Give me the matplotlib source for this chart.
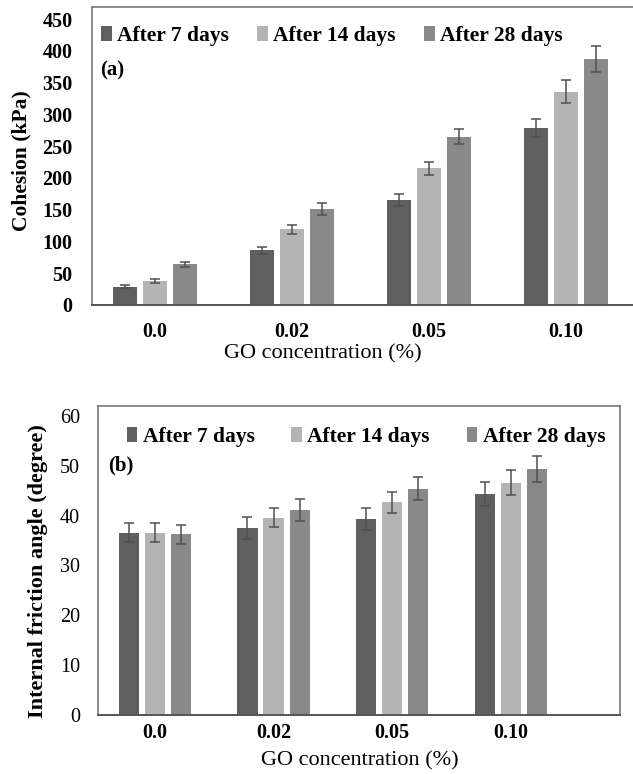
import matplotlib
matplotlib.use("Agg")
import matplotlib.pyplot as plt
import numpy as np
from matplotlib.patches import Patch

categories = ["0.0", "0.02", "0.05", "0.10"]
series = ["After 7 days", "After 14 days", "After 28 days"]
colors = ["#5f5f5f", "#b4b4b4", "#898989"]

cohesion = [
    [29, 86, 165, 279],
    [38, 119, 215, 336],
    [64, 151, 265, 387],
]
cohesion_err = [
    [2, 5, 9, 14],
    [3, 7, 10, 18],
    [4, 9, 12, 20],
]
friction = [
    [36.6, 37.6, 39.3, 44.4],
    [36.6, 39.6, 42.7, 46.6],
    [36.3, 41.2, 45.4, 49.3],
]
friction_err = [
    [1.9, 2.2, 2.2, 2.4],
    [1.9, 1.9, 2.1, 2.5],
    [1.9, 2.2, 2.3, 2.6],
]

plt.rcParams['font.family'] = ['Liberation Serif', 'DejaVu Serif']

W, H = 633, 774
fig = plt.figure(figsize=(W/100, H/100), dpi=100)

def px_axes(l, t, r, b):
    return fig.add_axes([l/W, 1 - b/H, (r - l)/W, (b - t)/H])

frame_col = "#777777"
axis_col = "#555555"

def draw(ax, vals, errs, width, step, ylim, yticks, ytick_bold, xpad, ypad, leg_anchor, colsp,
         tag, tag_xy, ylabel, ylabel_xy, ylabel_size):
    x = np.arange(len(categories))
    for i in range(3):
        ax.bar(x + (i - 1) * step, vals[i], width, color=colors[i], zorder=2,
               yerr=errs[i], error_kw=dict(ecolor="#505050", elinewidth=1.1, capsize=3.5, capthick=1.1))
    ax.set_ylim(*ylim)
    ax.set_yticks(yticks)
    ax.set_yticklabels([str(t) for t in yticks], fontsize=14.5,
                       fontweight='bold' if ytick_bold else 'normal')
    ax.set_xticks(x)
    ax.set_xticklabels(categories, fontsize=14.5, fontweight='bold')
    ax.tick_params(axis='both', length=0)
    ax.tick_params(axis='x', pad=xpad)
    ax.tick_params(axis='y', pad=ypad)
    for s in ['left', 'top', 'right']:
        ax.spines[s].set_color(frame_col)
        ax.spines[s].set_linewidth(1.2)
    ax.spines['bottom'].set_color(axis_col)
    ax.spines['bottom'].set_linewidth(1.4)
    handles = [Patch(facecolor=c, edgecolor='none') for c in colors]
    ax.legend(handles, series, loc='center left', bbox_to_anchor=leg_anchor, ncol=3,
              frameon=False, prop=dict(size=15.5, weight='bold'),
              handlelength=0.5, handleheight=0.7, handletextpad=0.25,
              columnspacing=colsp, borderaxespad=0, borderpad=0)
    ax.text(tag_xy[0], tag_xy[1], tag, transform=ax.transAxes, fontsize=15,
            fontweight='bold', va='center', ha='left')
    fig.text(ylabel_xy[0] / W, 1 - ylabel_xy[1] / H, ylabel,
             rotation=90, ha='center', va='center', fontsize=ylabel_size, fontweight='bold')

# Top panel
ax1 = px_axes(92, 7, 640, 305)
ax1.set_xlim(-0.46, 3.54)
draw(ax1, cohesion, cohesion_err, 0.175, 0.222, (0, 469), list(range(0, 451, 50)), True, 12, 14,
     (0.017, 1 - 29/298), 1.3, "(a)", (0.015, 1 - 63/298), "Cohesion (kPa)", (21, 161), 15.5)
fig.text(323/W, 1 - 354/H, "GO concentration (%)", ha='center', va='center', fontsize=16)

# Bottom panel
ax2 = px_axes(98, 406, 620, 715)
ax2.set_xlim(-0.48, 3.92)
draw(ax2, friction, friction_err, 0.17, 0.22, (0, 62), list(range(0, 61, 10)), False, 6, 13,
     (0.055, 1 - 31/309), 1.7, "(b)", (0.02, 1 - 59/309), "Internal friction angle (degree)",
     (38, 571), 16)
fig.text(360/W, 1 - 761/H, "GO concentration (%)", ha='center', va='center', fontsize=16)

fig.savefig("out.png", dpi=100)
